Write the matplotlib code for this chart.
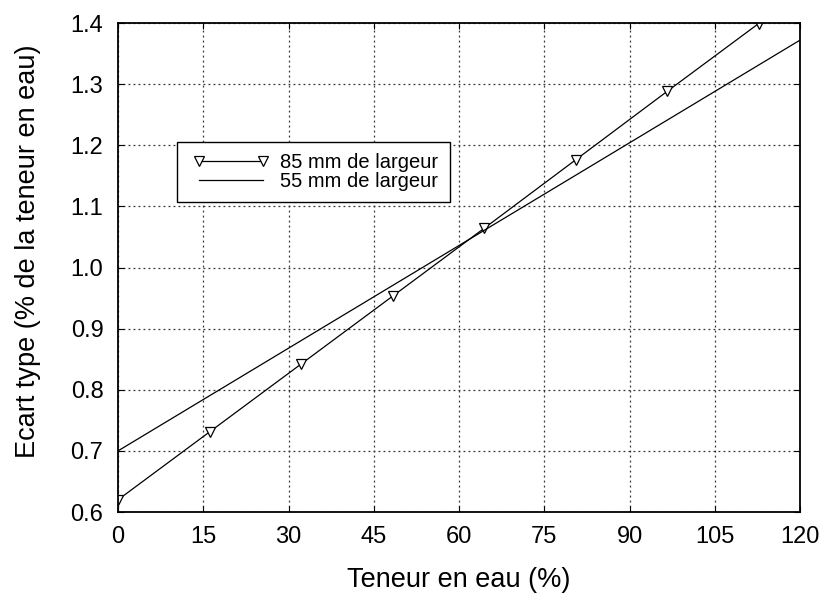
import matplotlib
matplotlib.use("Agg")
import matplotlib.pyplot as plt
from matplotlib.legend_handler import HandlerLine2D

plt.rcParams['font.family'] = ['Liberation Sans', 'DejaVu Sans']

# Data
x85 = [0.0, 16.1, 32.2, 48.3, 64.4, 80.5, 96.6, 112.7]
y85 = [0.62, 0.731, 0.842, 0.953, 1.064, 1.176, 1.288, 1.399]
x55 = [0.0, 120.0]
y55 = [0.70, 1.372]
xticks = [0, 15, 30, 45, 60, 75, 90, 105, 120]
yticks = [0.6, 0.7, 0.8, 0.9, 1.0, 1.1, 1.2, 1.3, 1.4]
label85 = "85 mm de largeur"
label55 = "55 mm de largeur"
xlabel = "Teneur en eau (%)"
ylabel = "Ecart type (% de la teneur en eau)"

fig = plt.figure(figsize=(8.24, 5.96), dpi=100)
ax = fig.add_axes([0.1432, 0.1409, 0.8277, 0.8205])

l85, = ax.plot(x85, y85, color='black', linewidth=0.9, marker='v', markersize=6.5,
               markerfacecolor='white', markeredgecolor='black', markeredgewidth=0.9,
               label=label85)
l55, = ax.plot(x55, y55, color='black', linewidth=0.9, label=label55)

ax.set_xlim(0, 120)
ax.set_ylim(0.6, 1.4)
ax.set_xticks(xticks)
ax.set_yticks(yticks)
ax.set_xticklabels([str(t) for t in xticks])
ax.set_yticklabels([f"{t:.1f}" for t in yticks])
ax.tick_params(direction='in', length=4, width=0.8, top=True, right=True,
               labelsize=17, colors='black')
ax.tick_params(axis='x', pad=10)
ax.tick_params(axis='y', pad=10.5)
ax.grid(True, linestyle=(0, (1.5, 2.5)), color='#333333', linewidth=0.9)
for s in ax.spines.values():
    s.set_linewidth(1.3)
    s.set_color('black')

ax.set_xlabel(xlabel, fontsize=19.5, labelpad=14)
ax.set_ylabel(ylabel, fontsize=19.5)
ax.yaxis.set_label_coords(-0.113, 0.534)

hm = {l85: HandlerLine2D(marker_pad=0.55), l55: HandlerLine2D(marker_pad=0.55)}
leg = ax.legend(handles=[l85, l55], handler_map=hm,
                loc='upper left', bbox_to_anchor=(0.0865, 0.757), numpoints=2,
                handlelength=4.28, fontsize=14.5, frameon=True, fancybox=False,
                edgecolor='black', borderpad=0.55, labelspacing=0.0,
                handletextpad=0.3, borderaxespad=0)
leg.get_frame().set_linewidth(1.0)
leg.get_frame().set_alpha(1)

fig.savefig("out.png", dpi=100)
